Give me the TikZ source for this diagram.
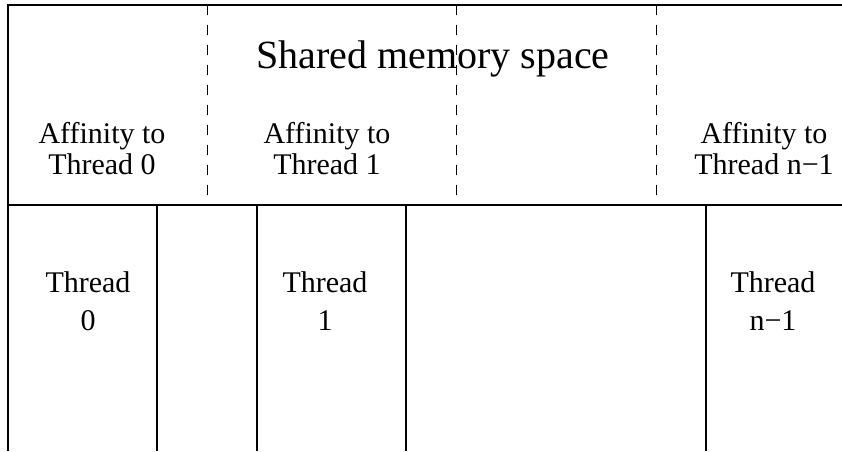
\documentclass[tikz,border=0pt]{standalone}
\usepackage{fontspec}
\setmainfont{Liberation Serif}

\begin{document}
\begin{tikzpicture}[x=0.5pt, y=-0.5pt,
        aff/.style={align=center, inner sep=0pt, font=\fontsize{15}{15.5}\selectfont},
        thr/.style={align=center, inner sep=0pt, font=\fontsize{15}{19}\selectfont}]
        \useasboundingbox (0,0) rectangle (842,451);
        \draw[line width=0.9pt] (842,5) -- (8,5) -- (8,451);
        \draw[line width=0.9pt] (8,205) -- (842,205);
        \foreach \x in {207,456,656} \draw[line width=0.5pt, dash pattern=on 5pt off 5pt] (\x,5) -- (\x,195);
        \foreach \x in {157,257,406,706} \draw[line width=0.6pt] (\x,205) -- (\x,451);
        \node[anchor=base, inner sep=0pt, font=\fontsize{20}{24}\selectfont] (shared) at (433,68) {Shared memory space};
        \node[aff] (aff0) at (102,149) {Affinity to\\Thread 0};
        \node[aff] (aff1) at (327,149) {Affinity to\\Thread 1};
        \node[aff] (affn) at (764,149) {Affinity to\\Thread n−1};
        \node[thr] (thr0) at (88,301) {Thread\\0};
        \node[thr] (thr1) at (325,301) {Thread\\1};
        \node[thr] (thrn) at (773,301) {Thread\\n−1};
    \end{tikzpicture}
\end{document}
